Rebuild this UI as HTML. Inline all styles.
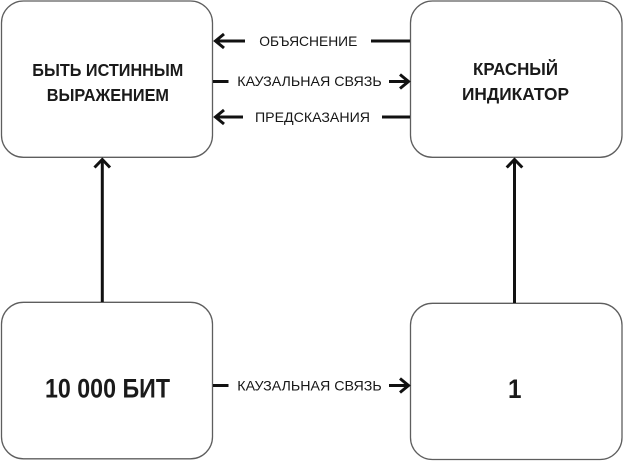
<!DOCTYPE html>
<html>
<head>
<meta charset="utf-8">
<style>
  html, body { margin:0; padding:0; background:#ffffff; }
  body { width:623px; height:461px; overflow:hidden; }
  svg { display:block; }
  .lbl { font-family:"Liberation Sans", "DejaVu Sans", sans-serif; font-size:14px; fill:#161616; }
  .ttl { font-family:"Liberation Sans", "DejaVu Sans", sans-serif; font-weight:bold; font-size:17.5px; fill:#1a1a1a; }
  .big { font-family:"Liberation Sans", "DejaVu Sans", sans-serif; font-weight:bold; font-size:26.5px; fill:#1a1a1a; }
</style>
</head>
<body>
<svg width="623" height="461" viewBox="0 0 623 461" xmlns="http://www.w3.org/2000/svg">
  <!-- Boxes -->
  <g fill="#ffffff" stroke="#5e5e5e" stroke-width="1.3">
    <rect x="1.5" y="1" width="211" height="156.3" rx="22" ry="22"/>
    <rect x="410.5" y="1" width="211.5" height="156.3" rx="22" ry="22"/>
    <rect x="1.5" y="302.3" width="211" height="156.5" rx="22" ry="22"/>
    <rect x="410.5" y="303.3" width="211.5" height="156.2" rx="22" ry="22"/>
  </g>

  <!-- Box titles -->
  <text class="ttl" x="32.3" y="76" textLength="151" lengthAdjust="spacingAndGlyphs">БЫТЬ ИСТИННЫМ</text>
  <text class="ttl" x="46.7" y="100.8" textLength="122.3" lengthAdjust="spacingAndGlyphs">ВЫРАЖЕНИЕМ</text>
  <text class="ttl" x="473" y="75" textLength="85" lengthAdjust="spacingAndGlyphs">КРАСНЫЙ</text>
  <text class="ttl" x="462" y="99.8" textLength="107" lengthAdjust="spacingAndGlyphs">ИНДИКАТОР</text>
  <text class="big" x="45" y="397.5" textLength="125" lengthAdjust="spacingAndGlyphs">10 000 БИТ</text>
  <text class="big" x="508" y="398" textLength="13.5" lengthAdjust="spacingAndGlyphs">1</text>

  <!-- Connector labels -->
  <text class="lbl" x="259.3" y="45.8" textLength="98" lengthAdjust="spacingAndGlyphs">ОБЪЯСНЕНИЕ</text>
  <text class="lbl" x="237.3" y="86.2" textLength="144.4" lengthAdjust="spacingAndGlyphs">КАУЗАЛЬНАЯ СВЯЗЬ</text>
  <text class="lbl" x="255" y="121.8" textLength="115" lengthAdjust="spacingAndGlyphs">ПРЕДСКАЗАНИЯ</text>
  <text class="lbl" x="237.3" y="390.4" textLength="144.4" lengthAdjust="spacingAndGlyphs">КАУЗАЛЬНАЯ СВЯЗЬ</text>

  <!-- Connectors -->
  <g stroke="#111111" stroke-width="3" fill="none" stroke-linecap="butt" stroke-linejoin="miter">
    <line x1="215" y1="41" x2="245" y2="41"/>
    <polyline points="224,34 215.5,41 224,48"/>
    <line x1="371" y1="41" x2="410" y2="41"/>

    <line x1="213" y1="81.5" x2="228.5" y2="81.5"/>
    <line x1="389" y1="81.5" x2="408" y2="81.5"/>
    <polyline points="400,74.5 408.5,81.5 400,88.5"/>

    <line x1="215" y1="117" x2="243" y2="117"/>
    <polyline points="224,110 215.5,117 224,124"/>
    <line x1="382" y1="117" x2="410" y2="117"/>

    <line x1="213" y1="385.5" x2="228.5" y2="385.5"/>
    <line x1="389" y1="385.5" x2="408" y2="385.5"/>
    <polyline points="400,378.5 408.5,385.5 400,392.5"/>

    <line x1="102.3" y1="302" x2="102.3" y2="160"/>
    <polyline points="94.5,167.5 102.3,159.5 110,167.5"/>

    <line x1="514.5" y1="303" x2="514.5" y2="160"/>
    <polyline points="506.7,167.5 514.5,159.5 522.3,167.5"/>
  </g>
</svg>
</body>
</html>
